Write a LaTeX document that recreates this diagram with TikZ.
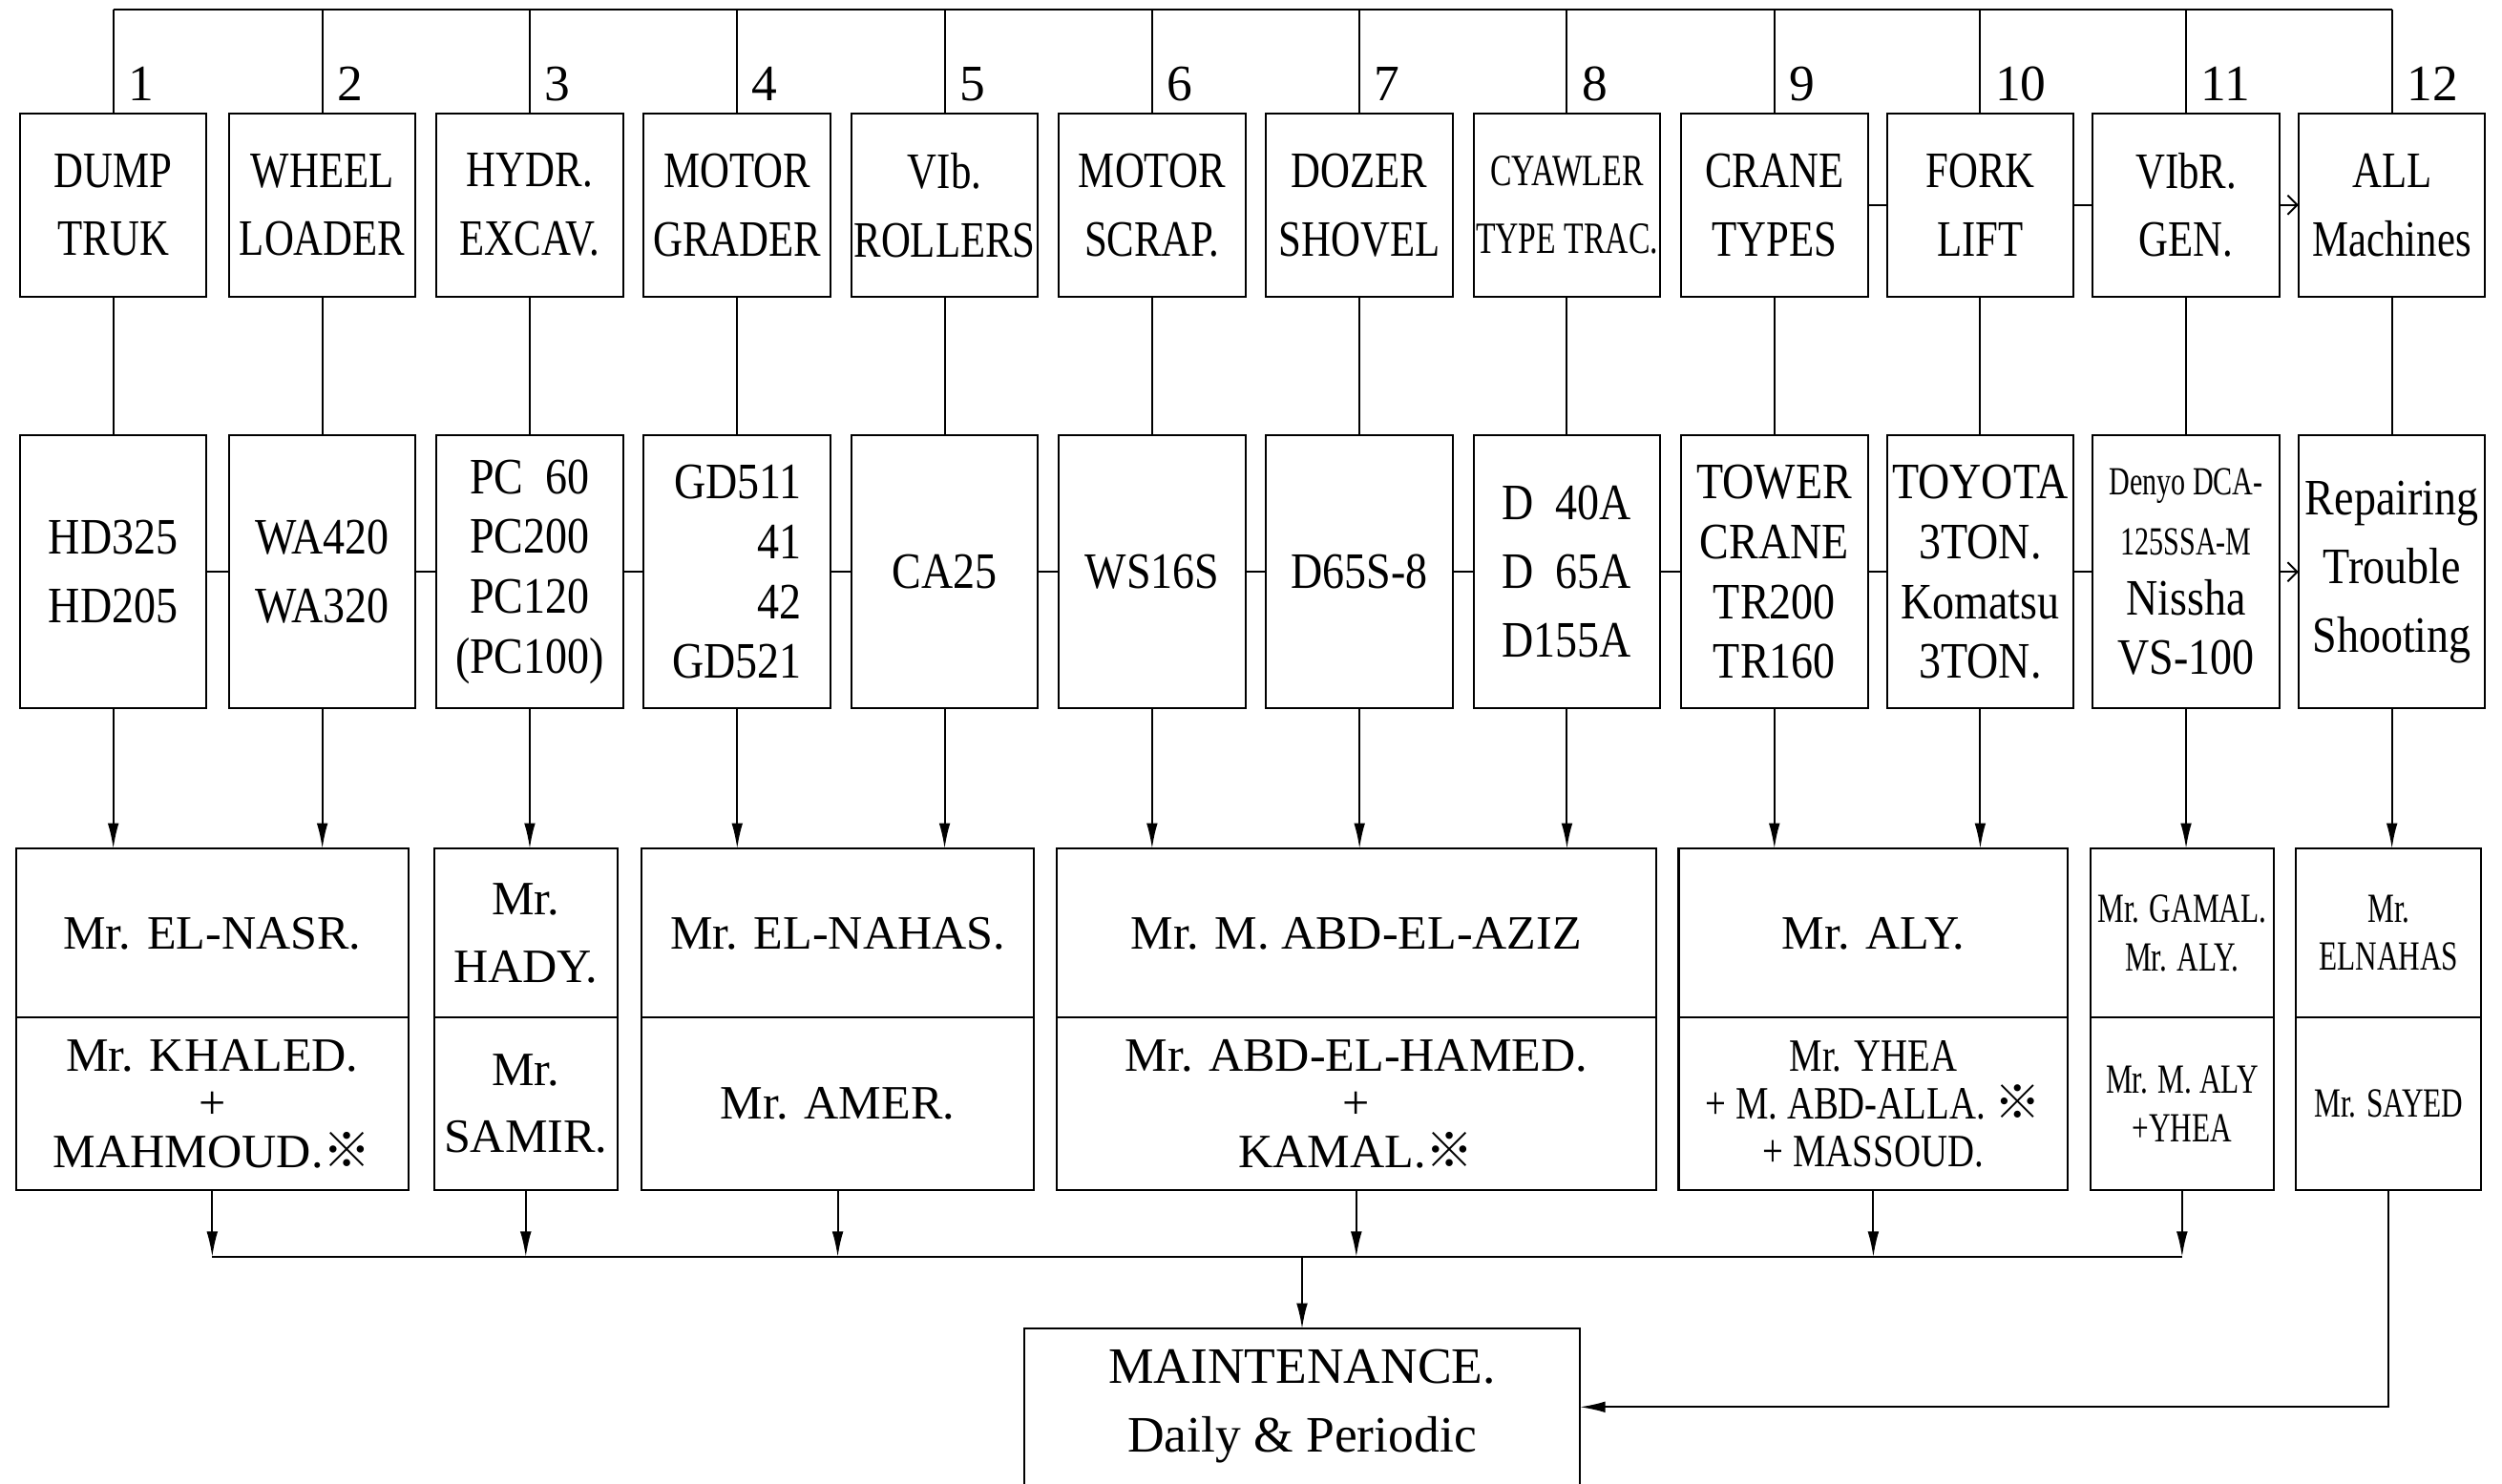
\documentclass[tikz,border=0pt]{standalone}
\usepackage{fontspec}
\setmainfont{Liberation Serif}
\newfontfamily\topf{Liberation Serif}[FakeStretch=0.8]
\newfontfamily\midf{Liberation Serif}[FakeStretch=0.86]
\newfontfamily\semif{Liberation Serif}[FakeStretch=0.8]
\newfontfamily\narrowf{Liberation Serif}[FakeStretch=0.72]
\newfontfamily\cjkf{Noto Sans CJK JP}
\usetikzlibrary{arrows.meta,calc}
\newcommand{\refmark}{{\cjkf ※}}
\tikzset{
  box/.style={draw, line width=0.6pt, inner sep=0pt, outer sep=0pt, align=center},
  tbox/.style={box, minimum width=58.5pt, minimum height=57.5pt, font=\topf\fontsize{16}{21.5}\selectfont},
  mbox/.style={box, minimum width=58.5pt, minimum height=85.5pt, font=\midf\fontsize{16}{21.5}\selectfont},
  mfour/.style={mbox, font=\midf\fontsize{16}{18.8}\selectfont},
  ptop/.style={box, minimum height=53pt, font=\fontsize{15}{21}\selectfont},
  pbot/.style={box, minimum height=54pt, font=\fontsize{15}{21}\selectfont},
  pbotthree/.style={pbot, font=\fontsize{15}{15}\selectfont},
  nar/.style={font=\narrowf\fontsize{13}{15}\selectfont},
  ln/.style={line width=0.6pt},
  arr/.style={ln, -{Latex[length=8pt,width=3.5pt]}},
  oarr/.style={ln, -{Straight Barb[length=3pt,width=6pt]}},
  num/.style={font=\fontsize{16}{16}\selectfont, inner sep=0pt, anchor=base west},
}
\begin{document}
\begin{tikzpicture}[x=0.5pt,y=-0.5pt]
\useasboundingbox (0,0) rectangle (1568,930);
\fill[white] (0,0) rectangle (1568,930);
\clip (0,0) rectangle (1568,930);

% ---------- top row ----------
\node[tbox] (t1)  at (71,128.5)   {DUMP\\TRUK};
\node[tbox] (t2)  at (202,128.5)  {WHEEL\\LOADER};
\node[tbox] (t3)  at (332,128.5)  {HYDR.\\EXCAV.};
\node[tbox] (t4)  at (462,128.5)  {MOTOR\\GRADER};
\node[tbox] (t5)  at (592,128.5)  {VIb.\\ROLLERS};
\node[tbox] (t6)  at (722,128.5)  {MOTOR\\SCRAP.};
\node[tbox] (t7)  at (852,128.5)  {DOZER\\SHOVEL};
\node[tbox, font=\narrowf\fontsize{14}{21.5}\selectfont] (t8) at (982,128.5) {CYAWLER\\TYPE TRAC.};
\node[tbox] (t9)  at (1112,128.5) {CRANE\\TYPES};
\node[tbox] (t10) at (1241,128.5) {FORK\\LIFT};
\node[tbox] (t11) at (1370,128.5) {VIbR.\\GEN.};
\node[tbox] (t12) at (1499,128.5) {ALL\\Machines};

% ---------- middle row ----------
\node[mbox]  (m1)  at (71,358.5)   {HD325\\HD205};
\node[mbox]  (m2)  at (202,358.5)  {WA420\\WA320};
\node[mfour] (m3)  at (332,358.5)  {PC\hphantom{0}60\\PC200\\PC120\\(PC100)};
\node[mfour, align=right] (m4) at (462,358.5) {GD511\\41\\42\\GD521};
\node[mbox]  (m5)  at (592,358.5)  {CA25};
\node[mbox]  (m6)  at (722,358.5)  {WS16S};
\node[mbox]  (m7)  at (852,358.5)  {D65S-8};
\node[mbox]  (m8)  at (982,358.5)  {D\hphantom{1}40A\\D\hphantom{1}65A\\D155A};
\node[mfour] (m9)  at (1112,358.5) {TOWER\\CRANE\\TR200\\TR160};
\node[mfour] (m10) at (1241,358.5) {TOYOTA\\3TON.\\Komatsu\\3TON.};
\node[mfour] (m11) at (1370,358.5) {{\narrowf\fontsize{12.5}{18.8}\selectfont Denyo DCA-}\\{\narrowf\fontsize{12.5}{18.8}\selectfont 125SSA-M}\\Nissha\\VS-100};
\node[mbox]  (m12) at (1499,358.5) {Repairing\\Trouble\\Shooting};

% ---------- person row ----------
\node[ptop, minimum width=123pt]  (pA) at (133,585)   {Mr. EL-NASR.};
\node[pbotthree, minimum width=123pt] (sA) at (133,692) {Mr. KHALED.\\+\\MAHMOUD.\refmark};
\node[ptop, minimum width=57.5pt] (pB) at (329.5,585) {Mr.\\HADY.};
\node[pbot, minimum width=57.5pt] (sB) at (329.5,692) {Mr.\\SAMIR.};
\node[ptop, minimum width=123pt]  (pC) at (525,585)   {Mr. EL-NAHAS.};
\node[pbot, minimum width=123pt]  (sC) at (525,692)   {Mr. AMER.};
\node[ptop, minimum width=188pt]  (pD) at (850,585)   {Mr. M. ABD-EL-AZIZ};
\node[pbotthree, minimum width=188pt] (sD) at (850,692) {Mr. ABD-EL-HAMED.\\+\\KAMAL.\refmark};
\node[ptop, minimum width=122pt]  (pE) at (1174,585)  {Mr. ALY.};
\node[pbotthree, minimum width=122pt, font=\semif\fontsize{14.5}{15}\selectfont] (sE) at (1174,692) {Mr. YHEA\\+ M. ABD-ALLA. \refmark\\+ MASSOUD.};
\node[ptop, minimum width=57.5pt, nar] (pF) at (1367.5,585) {Mr. GAMAL.\\Mr. ALY.};
\node[pbot, minimum width=57.5pt, nar] (sF) at (1367.5,692) {Mr. M. ALY\\+YHEA};
\node[ptop, minimum width=58pt, nar]   (pG) at (1497,585)   {Mr.\\ELNAHAS};
\node[pbot, minimum width=58pt, nar]   (sG) at (1497,692)   {Mr. SAYED};

% ---------- maintenance ----------
\node[box, minimum width=174pt, minimum height=70pt, anchor=north] (maint) at (816,833) {};
\node[align=center, inner sep=0pt, font=\fontsize{16}{21.5}\selectfont] (mtext) at (816,881.5) {MAINTENANCE.\\Daily \& Periodic};

% ---------- top bus and numbers ----------
\coordinate (topbus) at (0,6);
\draw[ln] (t1.north |- topbus) -- (t12.north |- topbus);
\foreach \i in {1,...,12}{
  \draw[ln] (t\i.north |- topbus) -- (t\i.north);
  \node[num] (n\i) at ($(t\i.north |- 0,63)+(9,0)$) {\i};
  \draw[ln] (t\i.south) -- (m\i.north);
}

% top-row side links
\draw[ln] (t9.east) -- (t10.west);
\draw[ln] (t10.east) -- (t11.west);
\draw[oarr] (t11.east) -- (t12.west);

% middle-row side links
\foreach \a/\b in {1/2,2/3,3/4,4/5,5/6,6/7,7/8,8/9,9/10,10/11}{
  \draw[ln] (m\a.east) -- (m\b.west);
}
\draw[oarr] (m11.east) -- (m12.west);

% middle to persons
\foreach \i/\p in {1/pA,2/pA,3/pB,4/pC,5/pC,6/pD,7/pD,8/pD,9/pE,10/pE,11/pF,12/pG}{
  \draw[arr] (m\i.south) -- (m\i.south |- \p.north);
}

% persons to collector bus
\coordinate (bus) at (0,788);
\foreach \s in {sA,sB,sC,sD,sE,sF}{
  \draw[arr] (\s.south) -- (\s.south |- bus);
}
\draw[ln] (sA.south |- bus) -- (sF.south |- bus);
\draw[arr] (maint.north |- bus) -- (maint.north);

% right path from 12
\coordinate (turn) at (1497,882);
\draw[arr] (sG.south) -- (turn) -- (turn -| maint.east);
\end{tikzpicture}
\end{document}
